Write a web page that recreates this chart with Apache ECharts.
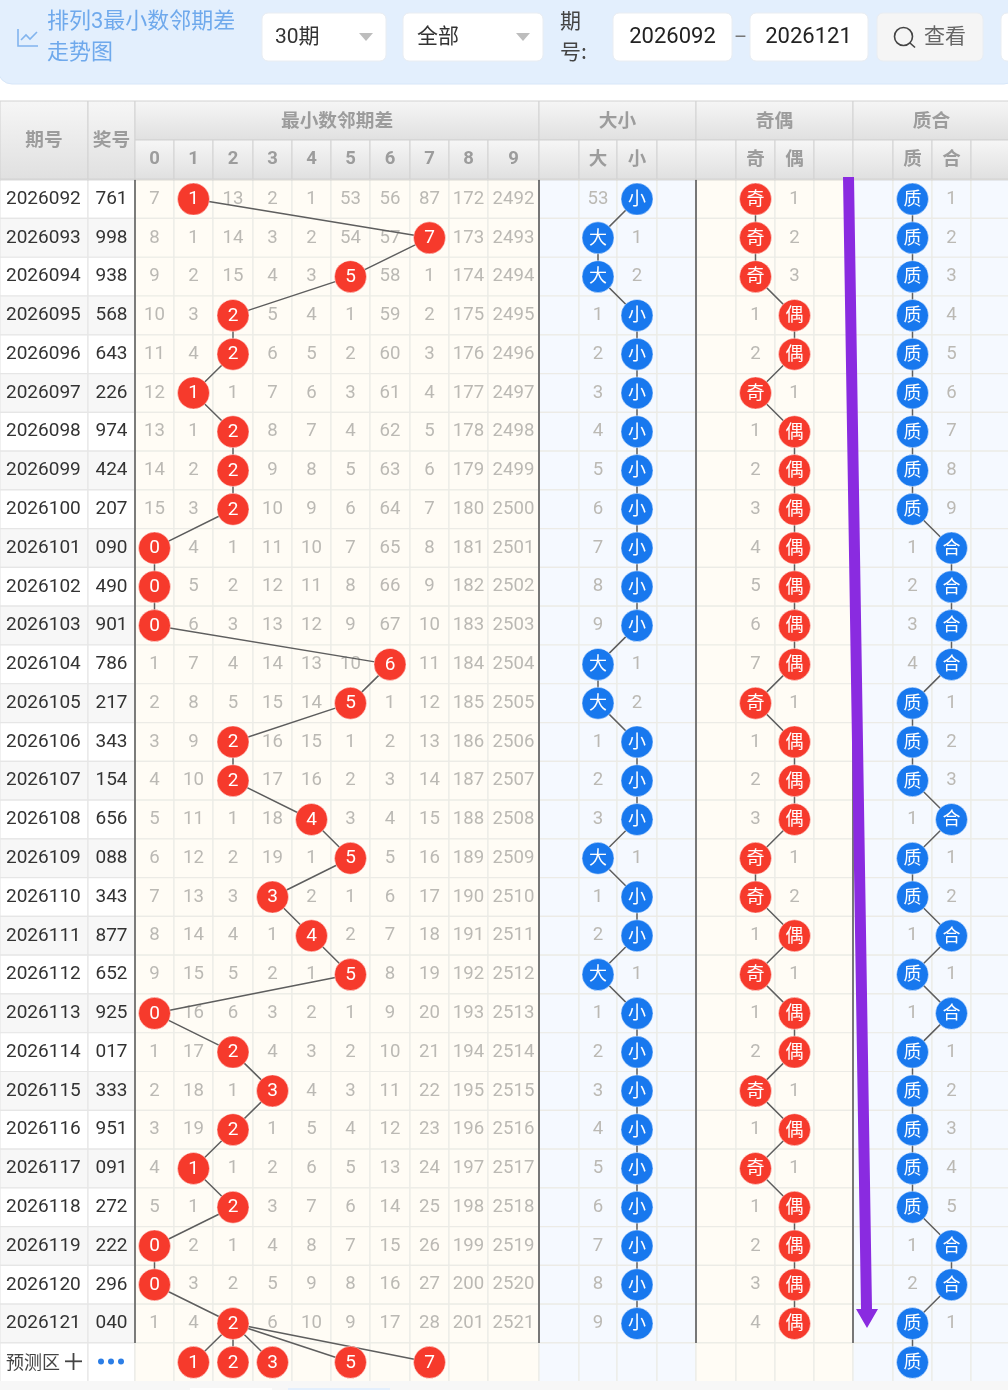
<!DOCTYPE html>
<html lang="zh"><head><meta charset="utf-8"><title>排列3最小数邻期差走势图</title>
<style>html,body{margin:0;padding:0;background:#fff}#c{width:1008px;height:1390px}</style>
<script src="https://cdn.jsdelivr.net/npm/echarts@6/dist/echarts.min.js"></script>
</head><body><div id="c"></div>
<script>
const issues=['2026092','2026093','2026094','2026095','2026096','2026097','2026098','2026099','2026100','2026101','2026102','2026103','2026104','2026105','2026106','2026107','2026108','2026109','2026110','2026111','2026112','2026113','2026114','2026115','2026116','2026117','2026118','2026119','2026120','2026121'];
const prizes=['761','998','938','568','643','226','974','424','207','090','490','901','786','217','343','154','656','088','343','877','652','925','017','333','951','091','272','222','296','040'];
// omission counts; 0 marks the hit in that period
const gap0=[7,8,9,10,11,12,13,14,15,0,0,0,1,2,3,4,5,6,7,8,9,0,1,2,3,4,5,0,0,1];
const gap1=[0,1,2,3,4,0,1,2,3,4,5,6,7,8,9,10,11,12,13,14,15,16,17,18,19,0,1,2,3,4];
const gap2=[13,14,15,0,0,1,0,0,0,1,2,3,4,5,0,0,1,2,3,4,5,6,0,1,0,1,0,1,2,0];
const gap3=[2,3,4,5,6,7,8,9,10,11,12,13,14,15,16,17,18,19,0,1,2,3,4,0,1,2,3,4,5,6];
const gap4=[1,2,3,4,5,6,7,8,9,10,11,12,13,14,15,16,0,1,2,0,1,2,3,4,5,6,7,8,9,10];
const gap5=[53,54,0,1,2,3,4,5,6,7,8,9,10,0,1,2,3,0,1,2,0,1,2,3,4,5,6,7,8,9];
const gap6=[56,57,58,59,60,61,62,63,64,65,66,67,0,1,2,3,4,5,6,7,8,9,10,11,12,13,14,15,16,17];
const gap7=[87,0,1,2,3,4,5,6,7,8,9,10,11,12,13,14,15,16,17,18,19,20,21,22,23,24,25,26,27,28];
const gap8=[172,173,174,175,176,177,178,179,180,181,182,183,184,185,186,187,188,189,190,191,192,193,194,195,196,197,198,199,200,201];
const gap9=[2492,2493,2494,2495,2496,2497,2498,2499,2500,2501,2502,2503,2504,2505,2506,2507,2508,2509,2510,2511,2512,2513,2514,2515,2516,2517,2518,2519,2520,2521];
const gapBig=[53,0,0,1,2,3,4,5,6,7,8,9,0,0,1,2,3,0,1,2,0,1,2,3,4,5,6,7,8,9];
const gapSmall=[0,1,2,0,0,0,0,0,0,0,0,0,1,2,0,0,0,1,0,0,1,0,0,0,0,0,0,0,0,0];
const gapOdd=[0,0,0,1,2,0,1,2,3,4,5,6,7,0,1,2,3,0,0,1,0,1,2,0,1,0,1,2,3,4];
const gapEven=[1,2,3,0,0,1,0,0,0,0,0,0,0,1,0,0,0,1,2,0,1,0,0,1,0,1,0,0,0,0];
const gapPrime=[0,0,0,0,0,0,0,0,0,1,2,3,4,0,0,0,1,0,0,1,0,1,0,0,0,0,0,1,2,0];
const gapComposite=[1,2,3,4,5,6,7,8,9,0,0,0,0,1,2,3,0,1,2,0,1,0,1,2,3,4,5,0,0,1];
const digitLabels=['0','1','2','3','4','5','6','7','8','9'];
const predictedDigits=[1,2,3,5,7];
const predictedPrime='质';
const groupLabels=['最小数邻期差','大小','奇偶','质合'];
const predictLabel='预测区';

// layout
const edges=[0,88,135,174,213,253,292,331,370,410,449,488,539,579,617,657,696,736,775,814,853,893,932,971,1010];
const center=c=>(edges[c]+edges[c+1])/2;
const digitGaps=[gap0,gap1,gap2,gap3,gap4,gap5,gap6,gap7,gap8,gap9];
const digitCols=digitGaps.map((g,i)=>({col:2+i,label:digitLabels[i],gap:g,color:'#F63A2C'}));
const pairs=[
 [{col:13,label:'大',gap:gapBig,color:'#1878EE'},{col:14,label:'小',gap:gapSmall,color:'#1878EE'}],
 [{col:17,label:'奇',gap:gapOdd,color:'#F63A2C'},{col:18,label:'偶',gap:gapEven,color:'#F63A2C'}],
 [{col:21,label:'质',gap:gapPrime,color:'#1878EE'},{col:22,label:'合',gap:gapComposite,color:'#1878EE'}]
];
const allCols=digitCols.concat(pairs.flat());
const rowNames=issues.concat([predictLabel]);
const numFont='Roboto, "Noto Sans", sans-serif';
const cjkFont='"Noto Sans CJK SC", sans-serif';
const mixFont='Roboto, "Noto Sans CJK SC", sans-serif';

// cell backgrounds
const cells=[];
for(let r=0;r<rowNames.length;r++)for(let c=0;c<edges.length-1;c++)cells.push([c,r]);
function cellFill(c,r){
  if(c<2)return r%2?'#F7F7F7':'#FFFFFF';
  if(c<12||(c>=16&&c<20))return '#FFFCF5';
  return '#F5F9FF';
}
// texts: x, row, text, colour, size, font, align
const texts=[];
issues.forEach((s,r)=>{
  texts.push([6,r,s,'#333333',19,numFont,'left']);
  texts.push([center(1),r,prizes[r],'#333333',19,numFont,'center']);
});
texts.push([6,30,predictLabel,'#444444',18,cjkFont,'left']);
allCols.forEach(o=>o.gap.forEach((v,r)=>{ if(v!==0) texts.push([center(o.col),r,String(v),'#BBB9B4',18.6,numFont,'center']); }));
// hit marks
const hitLabel=(isCjk)=>({fontSize:isCjk?18:19,fontFamily:isCjk?cjkFont:numFont,offset:[0,isCjk?-1:0.5]});
const hits=[];
allCols.forEach(o=>o.gap.forEach((v,r)=>{ if(v===0) hits.push({value:[center(o.col),r,o.label],itemStyle:{color:o.color},label:hitLabel(o.col>11)}); }));
predictedDigits.forEach(d=>hits.push({value:[center(2+d),30,digitLabels[d]],itemStyle:{color:'#F63A2C'},label:hitLabel(false)}));
hits.push({value:[center(21),30,predictedPrime],itemStyle:{color:'#1878EE'},label:hitLabel(true)});

// connecting lines
function path(group){
  return issues.map((_,r)=>{ const o=group.find(g=>g.gap[r]===0); return [center(o.col),r]; });
}
const lineStyle={color:'#5E5E5E',width:1.5};
const lineSeries=d=>({type:'line',data:d,z:3,silent:true,animation:false,showSymbol:false,symbol:'none',lineStyle,clip:false});
const dividerStyles=[['#555555',1.5],['#777777',2],['#777777',2],['#777777',2]];
const series=[
 {type:'custom',z:1,silent:true,animation:false,clip:false,data:cells,encode:{x:0,y:1},
  renderItem(p,api){
    const c=api.value(0),r=api.value(1);
    const a=api.coord([edges[c],r]),b=api.coord([edges[c+1],r]);
    const h=api.size([0,1])[1];
    return {type:'rect',shape:{x:a[0],y:a[1]-h/2,width:b[0]-a[0],height:h},
      style:{fill:cellFill(c,r),stroke:c<2?'#E6E6E6':'#ECEBE6',lineWidth:1.2}};
  }},
 {type:'custom',z:2,silent:true,animation:false,clip:false,data:[[edges[2]],[edges[12]],[edges[16]],[edges[20]]],
  encode:{x:0},
  renderItem(p,api){
    const x=api.value(0);
    const t=api.coord([x,0]),b=api.coord([x,29]);
    const h=api.size([0,1])[1];
    return {type:'line',shape:{x1:t[0],y1:t[1]-h/2,x2:t[0],y2:b[1]+h/2},style:{stroke:dividerStyles[p.dataIndex][0],lineWidth:dividerStyles[p.dataIndex][1]}};
  }},
 {type:'custom',z:2,silent:true,animation:false,clip:false,data:texts.map(t=>[t[0],t[1]]),encode:{x:0,y:1},
  renderItem(p,api){
    const t=texts[p.dataIndex];
    const xy=api.coord([t[0],t[1]]);
    return {type:'text',style:{x:xy[0],y:xy[1],text:t[2],fill:t[3],fontSize:t[4],fontFamily:t[5],align:t[6],verticalAlign:'middle'}};
  }},
 lineSeries(path(digitCols))
];
pairs.forEach((g,i)=>{
  const d=path(g);
  if(i===2) d.push([center(21),30]);
  series.push(lineSeries(d));
});
predictedDigits.forEach(v=>series.push(lineSeries([[center(4),29],[center(2+v),30]])));
series.push({type:'scatter',z:4,silent:true,animation:false,clip:false,symbolSize:32,data:hits,
  itemStyle:{borderColor:'rgba(255,255,255,0.45)',borderWidth:1,opacity:1},
  label:{show:true,position:'inside',color:'#FFFFFF',formatter:p=>p.value[2]}});

// header + toolbar graphics
const g=[];
const headGrad={type:'linear',x:0,y:0,x2:0,y2:1,colorStops:[{offset:0,color:'#F6F6F6'},{offset:1,color:'#E0E0E0'}]};
function head(x0,x1,y0,y1,text,font,size,weight,dy){
  g.push({type:'rect',z:20,shape:{x:x0,y:y0,width:x1-x0,height:y1-y0},style:{fill:headGrad,stroke:'#D2D2D2',lineWidth:1}});
  if(text)g.push({type:'text',z:21,x:(x0+x1)/2,y:(y0+y1)/2+(dy||0),style:{text,fill:'#9C9C9C',fontSize:size,fontFamily:font,fontWeight:weight,align:'center',verticalAlign:'middle'}});
}
head(0,88,101,179,'期号',cjkFont,18.7,700,-1);
head(88,135,101,179,'奖号',cjkFont,18.7,700,-1);
head(135,539,101,140,groupLabels[0],cjkFont,18.7,700,-1);
head(539,696,101,140,groupLabels[1],cjkFont,18.7,700,-1);
head(696,853,101,140,groupLabels[2],cjkFont,18.7,700,-1);
head(853,1010,101,140,groupLabels[3],cjkFont,18.7,700,-1);
for(let c=2;c<24;c++){
  const o=allCols.find(a=>a.col===c);
  const isNum=o&&c<12;
  head(edges[c],edges[c+1],140,179,o?o.label:'',isNum?numFont:cjkFont,18.5,700,isNum?0:-2);
}
g.push({type:'rect',z:19,shape:{x:0,y:178,width:1008,height:3},style:{fill:'rgba(0,0,0,0.05)'}});
// purple arrow
g.push({type:'polygon',z:30,shape:{points:[[843,177],[854,177],[872,1309],[878,1309],[867,1328],[856,1309],[861,1309]]},style:{fill:'#8A2BE0'}});
// toolbar
g.push({type:'rect',z:20,shape:{x:-2,y:-20,width:1020,height:104,r:14},style:{fill:'#E3EFFD',stroke:'#D7E6F8',lineWidth:1}});
const box=(x,w,fill)=>g.push({type:'rect',z:21,shape:{x,y:13,width:w,height:48,r:6},style:{fill:fill||'#FFFFFF',stroke:'#E9EDF2',lineWidth:1}});
const label=(x,y,text,size,fill,align,font)=>g.push({type:'text',z:22,x,y,style:{text,fill,fontSize:size,fontFamily:font||cjkFont,align:align||'left',verticalAlign:'middle'}});
g.push({type:'polyline',z:22,shape:{points:[[18,29],[18,46],[38,46]]},style:{stroke:'#82B4EE',lineWidth:1.6,fill:'none'}});
g.push({type:'polyline',z:22,shape:{points:[[21,40],[26,35],[30,39],[37,32]]},style:{stroke:'#82B4EE',lineWidth:1.6,fill:'none'}});
label(47,22,'排列3最小数邻期差',22,'#6FA9EC','left',mixFont);
label(47,51,'走势图',22,'#6FA9EC');
box(262,124);box(403,140);
label(275,37.5,'30期',21,'#333333','left',mixFont);
label(417,35,'全部',21,'#333333');
[[359,373],[516,530]].forEach(t=>g.push({type:'polygon',z:22,shape:{points:[[t[0],33],[t[1],33],[(t[0]+t[1])/2,41]]},style:{fill:'#BDBDBD'}}));
label(560,20,'期',21,'#444444');
label(560,51,'号:',21,'#444444');
box(613,119);box(750,118);
label(672.5,37,issues[0],22,'#222222','center',numFont);
label(808.5,37,issues[29],22,'#222222','center',numFont);
label(740.5,39,'–',20,'#777777','center',numFont);
box(877,106,'#F5F5F5');
g.push({type:'circle',z:22,shape:{cx:903.5,cy:36.5,r:9},style:{stroke:'#444444',lineWidth:1.6,fill:'none'}});
g.push({type:'line',z:22,shape:{x1:910,y1:43,x2:915,y2:47.5},style:{stroke:'#444444',lineWidth:1.6}});
label(924,35,'查看',21,'#666666');
box(1001,30);
// prediction row extras
g.push({type:'rect',z:21,shape:{x:65,y:1360.4,width:17,height:1.8},style:{fill:'#444444'}});
g.push({type:'rect',z:21,shape:{x:72.6,y:1353,width:1.8,height:17},style:{fill:'#444444'}});
[101,111,121].forEach(x=>g.push({type:'circle',z:21,shape:{cx:x,cy:1361.5,r:3},style:{fill:'#2C7EE6'}}));
// page foot
g.push({type:'rect',z:18,shape:{x:0,y:1381,width:1008,height:9},style:{fill:'#F7F7F7'}});
g.push({type:'rect',z:18,shape:{x:190,y:1388,width:82,height:2},style:{fill:'#FFFFFF'}});
g.push({type:'rect',z:18,shape:{x:288,y:1388,width:102,height:2},style:{fill:'#E3EFFD'}});

const chart=echarts.init(document.getElementById('c'),null,{renderer:'canvas'});
chart.setOption({
  animation:false,backgroundColor:'#FFFFFF',
  grid:{left:0,top:179.7,width:1008,height:1202,containLabel:false},
  xAxis:{type:'value',min:0,max:1008,show:false},
  yAxis:{type:'category',inverse:true,data:rowNames,axisLine:{show:false},axisTick:{show:false},splitLine:{show:false},axisLabel:{show:false}},
  graphic:{elements:g},
  series
});
</script></body></html>
